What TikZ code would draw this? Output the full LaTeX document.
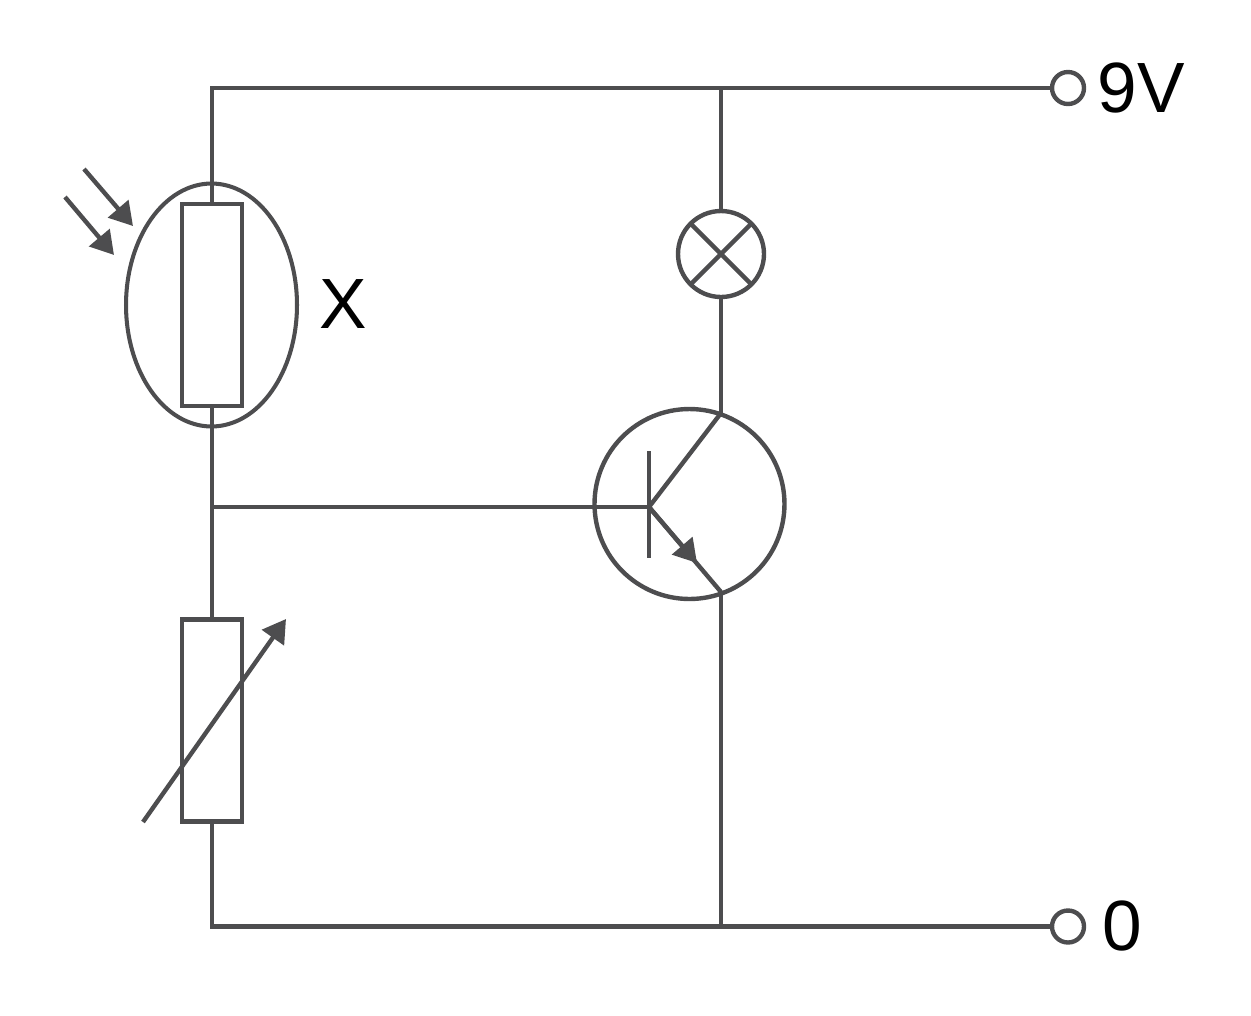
\documentclass[tikz,border=0pt]{standalone}
\usepackage{fontspec}
\setmainfont{Liberation Sans}
\usetikzlibrary{arrows.meta,shapes.geometric}
\definecolor{wire}{HTML}{4D4D4F}
\tikzset{
	part/.style={draw=wire, line width=2.5pt, inner sep=0, outer sep=0},
	res/.style={part, rectangle, minimum width=1.2cm, minimum height=4.04cm},
	term/.style={part, circle, minimum size=0.64cm},
	lead/.style={draw=wire, line width=2.5pt},
	tiplead/.style={lead, -{Triangle[length=13pt, width=15pt]}},
	lbl/.style={inner sep=0, font=\fontsize{40.5}{41}\selectfont}
}

\begin{document}
\begin{tikzpicture}[x=0.02cm, y=-0.02cm]
		%%%%% START %%%%%
		\useasboundingbox (0, 0) rectangle (1251, 1015);
		
		% parts
		\node[part, ellipse, line width=2.3pt, minimum width=3.42cm, minimum height=4.86cm] (ring) at (211.5, 305) {};
		\node[res] (ldr) at (212, 305) {};
		\node[res] (vres) at (212, 720.5) {};
		\node[part, circle, minimum size=1.72cm] (lamp) at (721, 254) {};
		\node[part, circle, minimum size=3.8cm] (trans) at (689.5, 504) {};
		\node[term] (top) at (1068, 88) {};
		\node[term] (bot) at (1068, 926.5) {};
		
		% labels
		\node[lbl] (xlbl) at (343.5, 304) {X};
		\node[lbl] (toplbl) at (1141, 88) {9V};
		\node[lbl] (botlbl) at (1122.5, 926) {0};
		
		% corners and joins
		\coordinate (tl) at (212, 88);
		\coordinate (tj) at (721, 88);
		\coordinate (bl) at (212, 926.5);
		\coordinate (bj) at (721, 926.5);
		\coordinate (lj) at (212, 507);
		\coordinate (base) at (649, 507);
		\coordinate (coll) at (721, 413);
		\coordinate (emit) at (721, 592);
		\coordinate (emtip) at (697, 563);
		
		% wires
		\draw[lead, line join=miter] (ldr.north) -- (tl) -- (top.west);
		\draw[lead, line join=miter] (vres.south) -- (bl) -- (bot.west);
		\draw[lead] (ldr.south) -- (vres.north);
		\draw[lead] (lj) -- (base);
		\draw[lead] (tj) -- (lamp.north);
		\draw[lead] (lamp.south) -- (coll);
		\draw[lead] (emit) -- (bj);
		
		% lamp cross
		\draw[lead] (lamp.45) -- (lamp.225);
		\draw[lead] (lamp.135) -- (lamp.315);
		
		% transistor
		\coordinate (bartop) at (649, 451);
		\coordinate (barbot) at (649, 558);
		\draw[lead] (bartop) -- (barbot);
		\draw[lead] (base) -- (coll);
		\draw[lead] (base) -- (emit);
		\draw[tiplead] (base) -- (emtip);
		
		% light and slider arrows
		\coordinate (ray1a) at (84, 169);
		\coordinate (ray1b) at (133, 226);
		\coordinate (ray2a) at (65, 197);
		\coordinate (ray2b) at (114, 255);
		\coordinate (slida) at (143, 822);
		\coordinate (slidb) at (286, 619);
		\draw[tiplead] (ray1a) -- (ray1b);
		\draw[tiplead] (ray2a) -- (ray2b);
		\draw[tiplead] (slida) -- (slidb);
		%%%%% END %%%%%
	\end{tikzpicture}
\end{document}
